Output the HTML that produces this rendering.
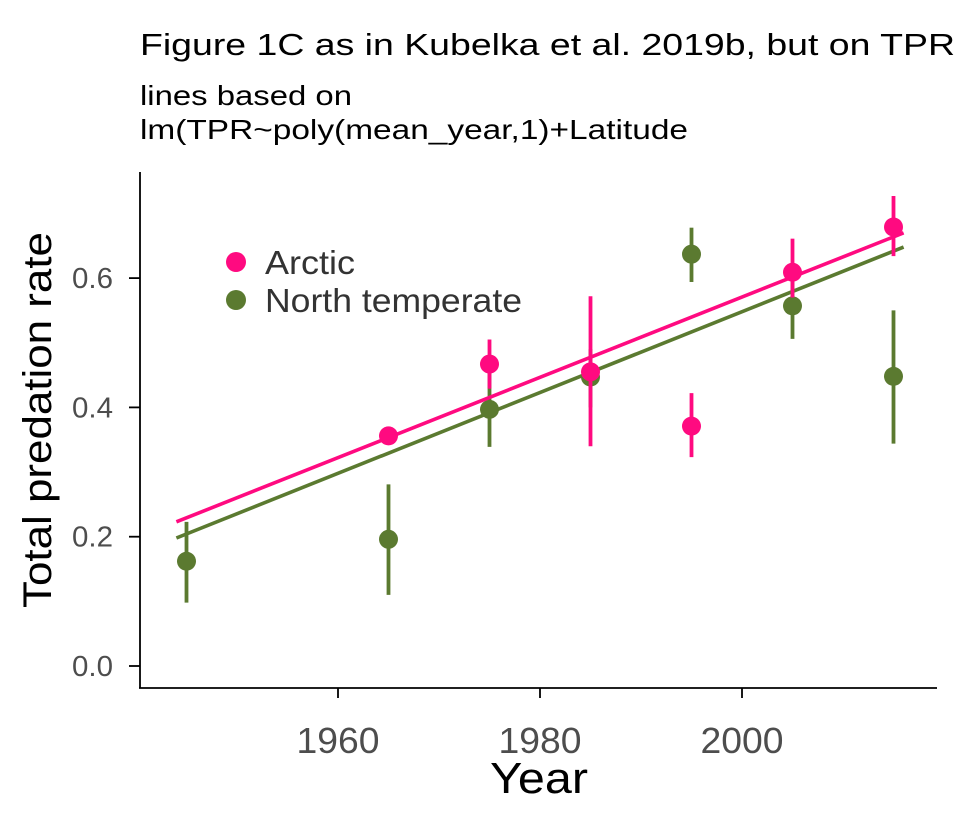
<!DOCTYPE html>
<html><head><meta charset="utf-8"><style>
body{margin:0;background:#fff;}
svg{display:block;font-family:"Liberation Sans",Arial,sans-serif;}
</style></head><body>
<svg width="960" height="825" viewBox="0 0 960 825">
<text x="140" y="55" font-size="31" fill="#000" textLength="815" lengthAdjust="spacingAndGlyphs">Figure 1C as in Kubelka et al. 2019b, but on TPR</text>
<text x="140" y="105" font-size="28" fill="#000" textLength="212" lengthAdjust="spacingAndGlyphs">lines based on</text>
<text x="140" y="139" font-size="28" fill="#000" textLength="548" lengthAdjust="spacingAndGlyphs">lm(TPR~poly(mean_year,1)+Latitude</text>
<g id="axes"></g>
<g id="marks"></g>
<text x="51" y="420" font-size="40" fill="#000" text-anchor="middle" textLength="376" lengthAdjust="spacingAndGlyphs" transform="rotate(-90 51 420)">Total predation rate</text>
<text x="539" y="793" font-size="44" fill="#000" text-anchor="middle" textLength="98" lengthAdjust="spacingAndGlyphs">Year</text>
<g>
<circle cx="236" cy="262" r="10" fill="#ff0a80"/>
<text x="265" y="274" font-size="33" fill="#333" textLength="90" lengthAdjust="spacingAndGlyphs">Arctic</text>
<circle cx="236" cy="300" r="10" fill="#5b7a30"/>
<text x="265" y="312" font-size="33" fill="#333" textLength="257" lengthAdjust="spacingAndGlyphs">North temperate</text>
</g>
</svg>
<script>
const xTicks=[1960,1980,2000];
const yTicks=[0.0,0.2,0.4,0.6];
const yTickLabels=["0.0","0.2","0.4","0.6"];
const arcticYears=[1965,1975,1985,1995,2005,2015];
const arcticVals=[0.356,0.467,0.455,0.371,0.609,0.679];
const arcticLo=[0.345,0.429,0.340,0.323,0.570,0.634];
const arcticHi=[0.365,0.505,0.572,0.422,0.661,0.727];
const tempYears=[1945,1965,1975,1985,1995,2005,2015];
const tempVals=[0.162,0.196,0.397,0.447,0.637,0.557,0.448];
const tempLo=[0.098,0.110,0.339,0.400,0.594,0.506,0.344];
const tempHi=[0.223,0.281,0.460,0.490,0.678,0.600,0.550];
const fitYears=[1944,2016];
const arcticFit=[0.223,0.670];
const tempFit=[0.198,0.648];
const X=y=>338+(y-1960)*10.1;
const Y=v=>666-v*646.5;
const NS='http://www.w3.org/2000/svg';
function mk(parent,tag,attrs){const e=document.createElementNS(NS,tag);for(const k in attrs)e.setAttribute(k,attrs[k]);parent.appendChild(e);return e;}
const axes=document.getElementById('axes');
let a=mk(axes,'line',{x1:140,y1:172,x2:140,y2:688,stroke:'#000','stroke-width':1.8});


a=mk(axes,'line',{x1:139,y1:688,x2:937,y2:688,stroke:'#000','stroke-width':1.8});


xTicks.forEach(t=>{
 const l=mk(axes,'line',{x1:X(t),y1:688,x2:X(t),y2:698,stroke:'#000','stroke-width':1.8});
 
 
 const tx=mk(axes,'text',{x:X(t),y:753,'font-size':36,fill:'#4d4d4d','text-anchor':'middle',textLength:83,lengthAdjust:'spacingAndGlyphs'});
 tx.textContent=t;
 
 
});
yTicks.forEach((t,i)=>{
 const l=mk(axes,'line',{x1:129,y1:Y(t),x2:140,y2:Y(t),stroke:'#000','stroke-width':1.8});
 
 
 const tx=mk(axes,'text',{x:113,y:Y(t)+10,'font-size':29,fill:'#4d4d4d','text-anchor':'end',textLength:41,lengthAdjust:'spacingAndGlyphs'});
 tx.textContent=yTickLabels[i];
 
 
});
const marks=document.getElementById('marks');
function series(name,years,vals,lo,hi,fit,col){
 const g=mk(marks,'g',{});
 
 
 years.forEach((yr,i)=>{
  const e=mk(g,'line',{x1:X(yr),x2:X(yr),y1:Y(lo[i]),y2:Y(hi[i]),stroke:col,'stroke-width':3.8});
  
  
 });
 const f=mk(g,'line',{x1:X(fitYears[0]),y1:Y(fit[0]),x2:X(fitYears[1]),y2:Y(fit[1]),stroke:col,'stroke-width':3.6});
 
 
 years.forEach((yr,i)=>{
  const c=mk(g,'circle',{cx:X(yr),cy:Y(vals[i]),r:9.5,fill:col});
  
  
 });
}
series('temperate',tempYears,tempVals,tempLo,tempHi,tempFit,'#5b7a30');
series('arctic',arcticYears,arcticVals,arcticLo,arcticHi,arcticFit,'#ff0a80');
</script>
</body></html>
